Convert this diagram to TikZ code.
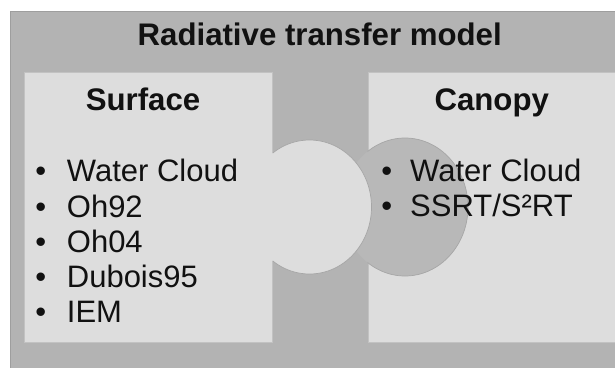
\documentclass[tikz,border=0pt]{standalone}
\usepackage{fontspec}
\setmainfont{Liberation Sans}
\definecolor{outerfill}{HTML}{B3B3B3}
\definecolor{outerline}{HTML}{9E9E9E}
\definecolor{boxfill}{HTML}{DDDDDD}
\definecolor{boxline}{HTML}{C2C2C2}
\definecolor{darkfill}{HTML}{B8B8B8}
\definecolor{ringline}{HTML}{A6A6A6}
\definecolor{ink}{HTML}{111111}
\begin{document}
\begin{tikzpicture}[x=1pt,y=-1pt,
  txt/.style={inner sep=0pt, text=ink, font=\fontsize{31}{36}\selectfont},
  head/.style={txt, font=\fontsize{31.2}{36}\selectfont\bfseries, anchor=base},
  item/.style={txt, anchor=base west},
  bul/.style={txt, anchor=base}]
\useasboundingbox (0,0) rectangle (615,367);
\fill[white] (0,0) rectangle (615,367);
% outer frame
\draw[fill=outerfill, draw=outerline, line width=0.8pt] (10,11) rectangle (640,390);
% panels
\draw[fill=boxfill, draw=boxline, line width=0.8pt] (24,72) rectangle (272.7,342);
\draw[fill=boxfill, draw=boxline, line width=0.8pt] (368,72) rectangle (630,342);
% dark tab (canopy)
\fill[darkfill] (405,207) ellipse [x radius=63pt, y radius=69pt];
\begin{scope}
  \clip (367.6,100) rectangle (500,300);
  \draw[ringline, line width=0.7pt] (405,207) ellipse [x radius=63pt, y radius=69pt];
\end{scope}
% light tab (surface)
\fill[boxfill] (309.5,207) ellipse [x radius=62pt, y radius=67pt];
\begin{scope}
  \clip (272.9,100) rectangle (400,300);
  \draw[ringline, line width=0.7pt] (309.5,207) ellipse [x radius=62pt, y radius=67pt];
\end{scope}
% titles
\node[head] (title) at (319.7,45) {Radiative transfer model};
\node[head] (surf) at (143,110) {Surface};
\node[head] (can) at (491.7,110) {Canopy};
% surface list
\foreach \t [count=\i] in {Water Cloud, Oh92, Oh04, Dubois95, IEM}{
  \node[bul] (sb\i) at (40.7,{181.7+35.3*(\i-1)}) {•};
  \node[item] (si\i) at (66.7,{181.7+35.3*(\i-1)}) {\t};
}
% canopy list
\node[bul] (cb1) at (386.7,181.7) {•};
\node[item] (ci1) at (410,181.7) {Water Cloud};
\node[bul] (cb2) at (386.7,216.5) {•};
\node[item] (ci2) at (410,216.5) {SSRT/S²RT};
\end{tikzpicture}
\end{document}
